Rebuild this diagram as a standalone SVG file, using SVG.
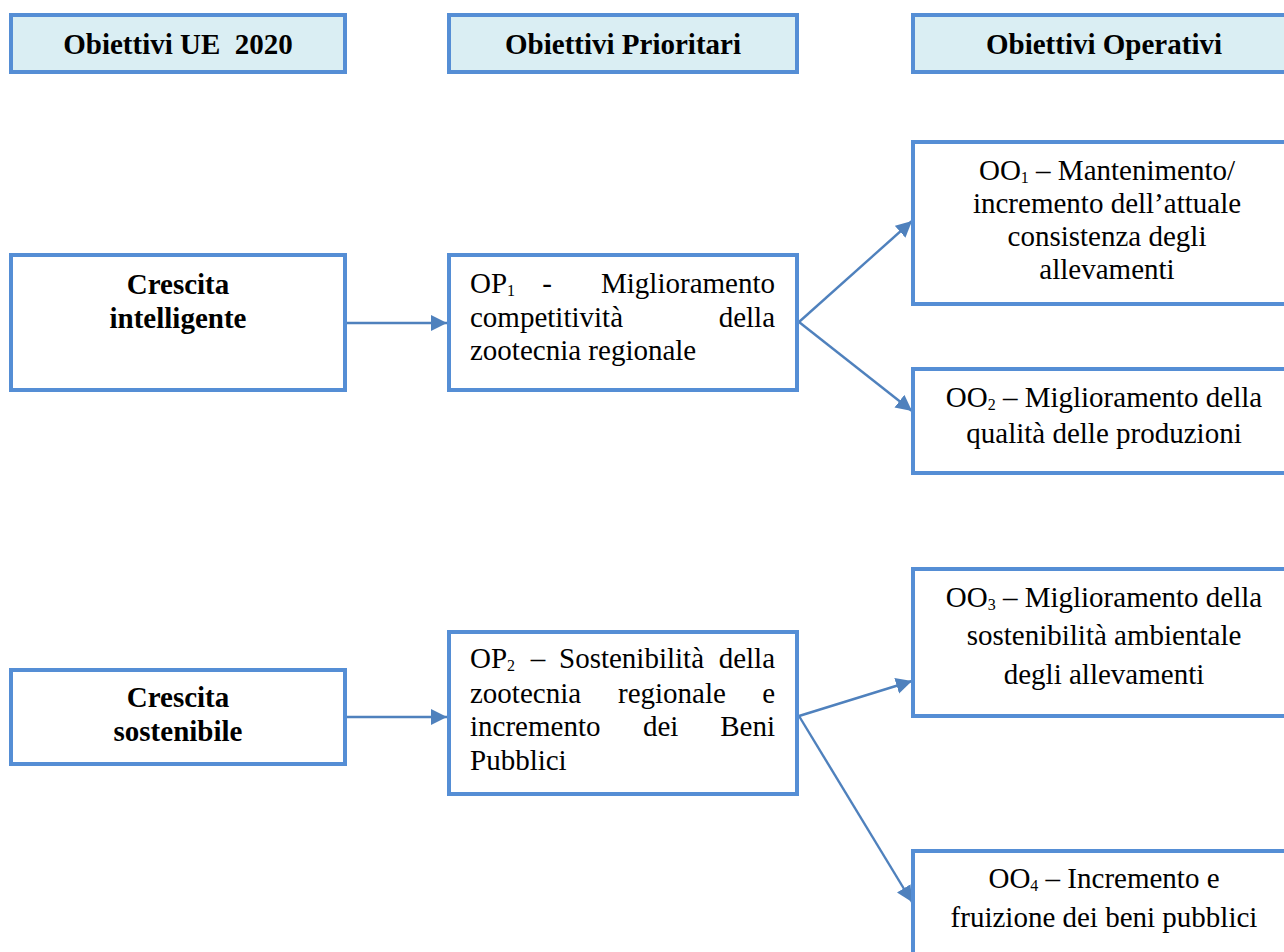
<svg xmlns="http://www.w3.org/2000/svg" width="1284" height="952" viewBox="0 0 1284 952">
<style>
.box{fill:#ffffff;stroke:#558ED5;stroke-width:4}
.hdr{fill:#DAEEF3;stroke:#558ED5;stroke-width:4}
.t{font-family:'Liberation Serif','Times New Roman',serif;font-size:29px;fill:#000}
.b{font-weight:bold}
.c{text-anchor:middle}
.e{text-anchor:end}
.sub{font-size:16px}
.conn{stroke:#4F81BD;stroke-width:2.4;fill:none;marker-end:url(#ah)}
</style>
<defs>
<marker id="ah" markerUnits="userSpaceOnUse" markerWidth="17" markerHeight="17" viewBox="0 0 17 17" refX="16" refY="8.5" orient="auto">
<path d="M0,0.5 L16,8.5 L0,16.5 Z" fill="#4F81BD"/>
</marker>
</defs>
<rect width="1284" height="952" fill="#ffffff"/>

<g id="hdr1"><rect class="hdr" x="11" y="15" width="334" height="57"/><text class="t b c" x="178" y="54" xml:space="preserve">Obiettivi UE  2020</text></g>
<g id="hdr2"><rect class="hdr" x="449" y="15" width="348" height="57"/><text class="t b c" x="623" y="54">Obiettivi Prioritari</text></g>
<g id="hdr3"><rect class="hdr" x="913" y="15" width="390" height="57"/><text class="t b c" x="1104" y="54">Obiettivi Operativi</text></g>

<g id="connectors">
<line class="conn" x1="347" y1="323" x2="447" y2="323"/>
<line class="conn" x1="347" y1="717" x2="447" y2="717"/>
<line class="conn" x1="799" y1="322" x2="912" y2="221"/>
<line class="conn" x1="799" y1="322" x2="912" y2="411"/>
<line class="conn" x1="799" y1="716" x2="912" y2="681"/>
<line class="conn" x1="799" y1="716" x2="912" y2="902"/>
</g>

<g id="ci"><rect class="box" x="11" y="255" width="334" height="135"/>
<text class="t b c" x="178" y="294">Crescita</text>
<text class="t b c" x="178" y="328">intelligente</text></g>

<g id="cs"><rect class="box" x="11" y="670" width="334" height="94"/>
<text class="t b c" x="178" y="707">Crescita</text>
<text class="t b c" x="178" y="741">sostenibile</text></g>

<g id="op1"><rect class="box" x="449" y="255" width="348" height="135"/>
<text class="t" x="470" y="293">OP<tspan class="sub" dy="3">1</tspan></text>
<text class="t c" x="547" y="293">-</text>
<text class="t e" x="775" y="293">Miglioramento</text>
<text class="t" x="470" y="327">competitività</text>
<text class="t e" x="775" y="327">della</text>
<text class="t" x="470" y="360">zootecnia regionale</text></g>

<g id="op2"><rect class="box" x="449" y="632" width="348" height="162"/>
<text class="t" x="470" y="668">OP<tspan class="sub" dy="3">2</tspan></text>
<text class="t c" x="538" y="668">–</text>
<text class="t" x="559" y="668">Sostenibilità</text>
<text class="t e" x="775" y="668">della</text>
<text class="t" x="470" y="703">zootecnia</text>
<text class="t" x="618" y="703">regionale</text>
<text class="t e" x="775" y="703">e</text>
<text class="t" x="470" y="736">incremento</text>
<text class="t" x="643" y="736">dei</text>
<text class="t e" x="775" y="736">Beni</text>
<text class="t" x="470" y="770">Pubblici</text></g>

<g id="oo1"><rect class="box" x="913" y="142" width="390" height="162"/>
<text class="t c" x="1107" y="180">OO<tspan class="sub" dy="3">1</tspan><tspan dy="-3"> – Mantenimento/</tspan></text>
<text class="t c" x="1107" y="213">incremento dell’attuale</text>
<text class="t c" x="1107" y="246">consistenza degli</text>
<text class="t c" x="1107" y="279">allevamenti</text></g>

<g id="oo2"><rect class="box" x="913" y="369" width="390" height="104"/>
<text class="t c" x="1104" y="407">OO<tspan class="sub" dy="3">2</tspan><tspan dy="-3"> – Miglioramento della</tspan></text>
<text class="t c" x="1104" y="443">qualità delle produzioni</text></g>

<g id="oo3"><rect class="box" x="913" y="569" width="390" height="147"/>
<text class="t c" x="1104" y="607">OO<tspan class="sub" dy="3">3</tspan><tspan dy="-3"> – Miglioramento della</tspan></text>
<text class="t c" x="1104" y="645">sostenibilità ambientale</text>
<text class="t c" x="1104" y="684">degli allevamenti</text></g>

<g id="oo4"><rect class="box" x="913" y="851" width="390" height="120"/>
<text class="t c" x="1104" y="888">OO<tspan class="sub" dy="3">4</tspan><tspan dy="-3"> – Incremento e</tspan></text>
<text class="t c" x="1104" y="927">fruizione dei beni pubblici</text></g>
</svg>
